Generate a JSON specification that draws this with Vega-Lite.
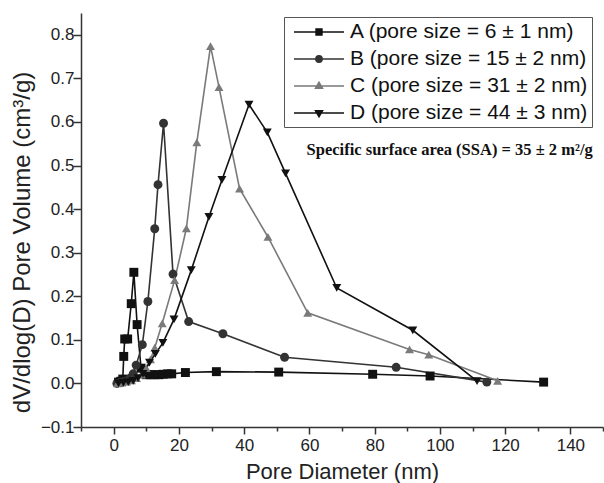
{
  "$schema": "https://vega.github.io/schema/vega-lite/v6.json",
  "width": 522,
  "height": 414,
  "autosize": {"type": "none"},
  "padding": {"left": 81, "top": 13, "right": 1, "bottom": 56},
  "background": "white",
  "config": {"view": {"stroke": null}, "font": "Liberation Sans"},
  "resolve": {"scale": {"x": "shared", "y": "shared", "color": "shared"}, "axis": {"x": "independent"}},
  "datasets": {
    "pores": [
      {"s": "A", "x": 1.5, "y": 0.003}, {"s": "A", "x": 2.2, "y": 0.005}, {"s": "A", "x": 2.8, "y": 0.01},
      {"s": "A", "x": 3.1, "y": 0.062}, {"s": "A", "x": 3.4, "y": 0.102}, {"s": "A", "x": 4.3, "y": 0.102},
      {"s": "A", "x": 5.4, "y": 0.183}, {"s": "A", "x": 6.2, "y": 0.255}, {"s": "A", "x": 7.2, "y": 0.135},
      {"s": "A", "x": 8.4, "y": 0.035}, {"s": "A", "x": 10.0, "y": 0.02}, {"s": "A", "x": 11.3, "y": 0.02},
      {"s": "A", "x": 12.6, "y": 0.02}, {"s": "A", "x": 13.9, "y": 0.02}, {"s": "A", "x": 15.2, "y": 0.021},
      {"s": "A", "x": 16.6, "y": 0.022}, {"s": "A", "x": 17.8, "y": 0.022}, {"s": "A", "x": 22.0, "y": 0.025},
      {"s": "A", "x": 31.5, "y": 0.027}, {"s": "A", "x": 50.6, "y": 0.026}, {"s": "A", "x": 79.4, "y": 0.021},
      {"s": "A", "x": 97.0, "y": 0.017}, {"s": "A", "x": 131.8, "y": 0.003},
      {"s": "B", "x": 1.0, "y": 0.0}, {"s": "B", "x": 2.0, "y": 0.002}, {"s": "B", "x": 3.0, "y": 0.004},
      {"s": "B", "x": 4.0, "y": 0.006}, {"s": "B", "x": 5.0, "y": 0.012}, {"s": "B", "x": 6.0, "y": 0.022},
      {"s": "B", "x": 6.9, "y": 0.042}, {"s": "B", "x": 8.8, "y": 0.089}, {"s": "B", "x": 10.5, "y": 0.188},
      {"s": "B", "x": 12.6, "y": 0.355}, {"s": "B", "x": 13.6, "y": 0.456}, {"s": "B", "x": 15.3, "y": 0.597},
      {"s": "B", "x": 18.2, "y": 0.251}, {"s": "B", "x": 23.0, "y": 0.142}, {"s": "B", "x": 33.5, "y": 0.114},
      {"s": "B", "x": 52.4, "y": 0.06}, {"s": "B", "x": 86.6, "y": 0.037}, {"s": "B", "x": 114.4, "y": 0.003},
      {"s": "C", "x": 1.2, "y": 0.0}, {"s": "C", "x": 2.5, "y": 0.002}, {"s": "C", "x": 4.0, "y": 0.004},
      {"s": "C", "x": 5.5, "y": 0.007}, {"s": "C", "x": 7.0, "y": 0.012}, {"s": "C", "x": 8.5, "y": 0.02},
      {"s": "C", "x": 10.0, "y": 0.035}, {"s": "C", "x": 11.3, "y": 0.055}, {"s": "C", "x": 12.6, "y": 0.082},
      {"s": "C", "x": 14.9, "y": 0.138}, {"s": "C", "x": 18.7, "y": 0.237}, {"s": "C", "x": 22.3, "y": 0.356},
      {"s": "C", "x": 25.5, "y": 0.553}, {"s": "C", "x": 29.7, "y": 0.774}, {"s": "C", "x": 32.3, "y": 0.68},
      {"s": "C", "x": 38.6, "y": 0.447}, {"s": "C", "x": 47.3, "y": 0.336}, {"s": "C", "x": 59.5, "y": 0.162},
      {"s": "C", "x": 90.7, "y": 0.078}, {"s": "C", "x": 96.6, "y": 0.066}, {"s": "C", "x": 117.7, "y": 0.006},
      {"s": "D", "x": 1.5, "y": 0.0}, {"s": "D", "x": 3.0, "y": 0.001}, {"s": "D", "x": 4.5, "y": 0.003},
      {"s": "D", "x": 6.0, "y": 0.006}, {"s": "D", "x": 7.5, "y": 0.012}, {"s": "D", "x": 9.0, "y": 0.022},
      {"s": "D", "x": 11.0, "y": 0.048}, {"s": "D", "x": 12.8, "y": 0.068}, {"s": "D", "x": 15.1, "y": 0.093},
      {"s": "D", "x": 18.5, "y": 0.147}, {"s": "D", "x": 23.8, "y": 0.26}, {"s": "D", "x": 29.2, "y": 0.382},
      {"s": "D", "x": 33.2, "y": 0.467}, {"s": "D", "x": 41.5, "y": 0.64}, {"s": "D", "x": 47.1, "y": 0.576},
      {"s": "D", "x": 52.7, "y": 0.482}, {"s": "D", "x": 68.4, "y": 0.219}, {"s": "D", "x": 91.7, "y": 0.122},
      {"s": "D", "x": 111.4, "y": 0.005}
    ],
    "note": [{"x": 103, "y": 0.535, "label": "Specific surface area (SSA) = 35 ± 2 m²/g"}]
  },
  "layer": [
    {
      "data": {"name": "pores"},
      "mark": {"type": "line", "strokeWidth": 1.6},
      "encoding": {
        "x": {
          "field": "x", "type": "quantitative",
          "scale": {"domain": [-10, 150], "nice": false, "zero": false},
          "axis": {
            "orient": "bottom",
            "title": "Pore Diameter (nm)",
            "values": [0, 20, 40, 60, 80, 100, 120, 140],
            "format": "d",
            "labelOverlap": false,
            "labelFlush": false,
            "grid": false,
            "domainColor": "#333", "domainWidth": 1.5,
            "tickColor": "#333", "tickWidth": 1.5, "tickSize": 7,
            "labelFont": "Liberation Sans", "labelFontSize": 17, "labelColor": "#222", "labelPadding": 3,
            "titleFont": "Liberation Sans", "titleFontSize": 22, "titleFontWeight": "normal", "titleColor": "#222",
            "titlePadding": 8
          }
        },
        "y": {
          "field": "y", "type": "quantitative",
          "scale": {"domain": [-0.1, 0.85], "nice": false, "zero": false},
          "axis": {
            "title": "dV/dlog(D) Pore Volume (cm³/g)",
            "values": [-0.1, -0.05, 0, 0.05, 0.1, 0.15, 0.2, 0.25, 0.3, 0.35, 0.4, 0.45, 0.5, 0.55, 0.6, 0.65, 0.7, 0.75, 0.8],
            "format": ".1f",
            "labelExpr": "(abs(round(datum.value * 100)) % 10 === 0) ? datum.label : ''",
            "labelOverlap": false,
            "grid": false,
            "domainColor": "#333", "domainWidth": 1.5,
            "tickColor": "#333", "tickWidth": 1.5,
            "tickSize": {"condition": {"test": "abs(round(datum.value * 100)) % 10 !== 0", "value": 4}, "value": 8},
            "labelFont": "Liberation Sans", "labelFontSize": 17, "labelColor": "#222", "labelPadding": -1,
            "titleFont": "Liberation Sans", "titleFontSize": 24, "titleFontWeight": "normal", "titleColor": "#222",
            "titleX": -59, "titleY": 229, "titleAngle": -90, "titleAlign": "center", "titleBaseline": "middle"
          }
        },
        "color": {
          "field": "s", "type": "nominal",
          "scale": {"domain": ["A", "B", "C", "D"], "range": ["#111111", "#333333", "#7a7a7a", "#111111"]},
          "legend": {
            "orient": "none", "legendX": 203, "legendY": 4,
            "title": null,
            "strokeColor": "#555", "padding": 4,
            "symbolSize": 400, "symbolStrokeWidth": 1.4, "symbolOffset": 20, "labelOffset": 20,
            "symbolType": {"expr": "datum.value === 'A' ? 'M-2.5,0H2.5M-0.3,-0.3H0.3V0.3H-0.3ZM-0.18,-0.18H0.18V0.18H-0.18ZM-0.06,-0.06H0.06V0.06H-0.06Z' : datum.value === 'B' ? 'M-2.5,0H2.5M-0.32,0A0.32,0.32,0,1,1,0.32,0A0.32,0.32,0,1,1,-0.32,0ZM-0.18,0A0.18,0.18,0,1,1,0.18,0A0.18,0.18,0,1,1,-0.18,0ZM-0.06,0A0.06,0.06,0,1,1,0.06,0A0.06,0.06,0,1,1,-0.06,0Z' : datum.value === 'C' ? 'M-2.5,0H2.5M0,-0.38L0.36,0.24L-0.36,0.24ZM0,-0.2L0.2,0.14L-0.2,0.14ZM0,-0.06L0.06,0.04L-0.06,0.04Z' : 'M-2.5,0H2.5M0,0.38L0.36,-0.24L-0.36,-0.24ZM0,0.2L0.2,-0.14L-0.2,-0.14ZM0,0.06L0.06,-0.04L-0.06,-0.04Z'"},
            "labelFont": "Liberation Sans", "labelFontSize": 21, "labelColor": "#111", "labelLimit": 400,
            "rowPadding": 6,
            "labelExpr": "datum.label === 'A' ? 'A (pore size = 6 ± 1 nm)' : datum.label === 'B' ? 'B (pore size = 15 ± 2 nm)' : datum.label === 'C' ? 'C (pore size = 31 ± 2 nm)' : 'D (pore size = 44 ± 3 nm)'"
          }
        }
      }
    },
    {
      "data": {"name": "pores"},
      "transform": [{"filter": "datum.s === 'A'"}],
      "mark": {"type": "point", "filled": true, "size": 80, "opacity": 1, "shape": "square"},
      "encoding": {
        "x": {"field": "x", "type": "quantitative", "axis": null},
        "y": {"field": "y", "type": "quantitative"},
        "color": {"field": "s", "type": "nominal", "legend": null}
      }
    },
    {
      "data": {"name": "pores"},
      "transform": [{"filter": "datum.s === 'B'"}],
      "mark": {"type": "point", "filled": true, "size": 80, "opacity": 1, "shape": "circle"},
      "encoding": {
        "x": {"field": "x", "type": "quantitative", "axis": null},
        "y": {"field": "y", "type": "quantitative"},
        "color": {"field": "s", "type": "nominal", "legend": null}
      }
    },
    {
      "data": {"name": "pores"},
      "transform": [{"filter": "datum.s === 'C'"}],
      "mark": {"type": "point", "filled": true, "size": 80, "opacity": 1, "shape": "triangle-up"},
      "encoding": {
        "x": {"field": "x", "type": "quantitative", "axis": null},
        "y": {"field": "y", "type": "quantitative"},
        "color": {"field": "s", "type": "nominal", "legend": null}
      }
    },
    {
      "data": {"name": "pores"},
      "transform": [{"filter": "datum.s === 'D'"}],
      "mark": {"type": "point", "filled": true, "size": 80, "opacity": 1, "shape": "triangle-down"},
      "encoding": {
        "x": {"field": "x", "type": "quantitative", "axis": null},
        "y": {"field": "y", "type": "quantitative"},
        "color": {"field": "s", "type": "nominal", "legend": null}
      }
    },
    {
      "data": {"name": "note"},
      "mark": {"type": "text", "font": "Liberation Serif", "fontWeight": "bold", "fontSize": 16.5, "align": "center", "baseline": "middle", "color": "#111"},
      "encoding": {
        "x": {
          "field": "x", "type": "quantitative",
          "axis": {
            "orient": "bottom", "title": null,
            "values": [-10, 10, 30, 50, 70, 90, 110, 130, 150],
            "labels": false, "domain": false, "grid": false,
            "tickColor": "#333", "tickWidth": 1.5, "tickSize": 4
          }
        },
        "y": {"field": "y", "type": "quantitative"},
        "text": {"field": "label"}
      }
    }
  ]
}
